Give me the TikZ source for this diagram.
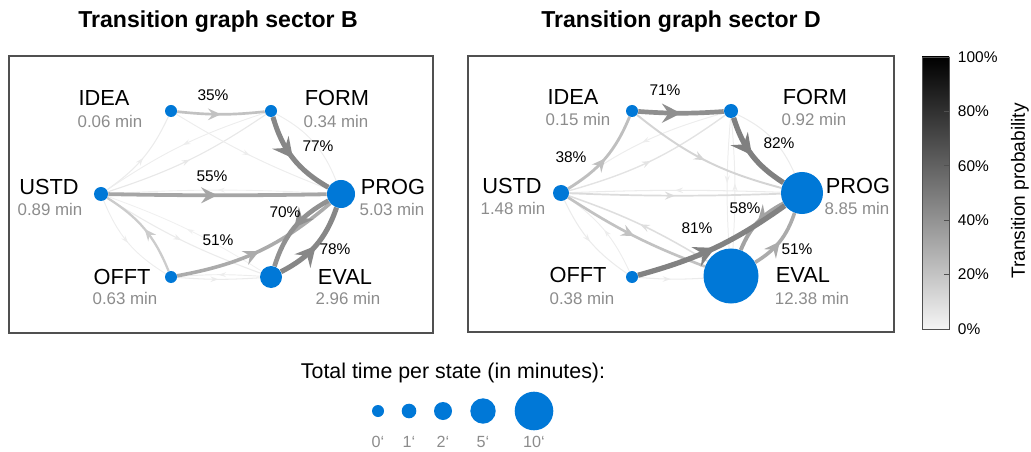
\documentclass[tikz,border=0pt]{standalone}
\usepackage{fontspec}
\setmainfont{Liberation Sans}
\usetikzlibrary{arrows.meta,decorations.markings,backgrounds}

\definecolor{dotblue}{RGB}{0,120,215}
\definecolor{timegray}{RGB}{140,140,140}
\definecolor{framegray}{RGB}{80,80,80}

\tikzset{
  dot/.style={circle, fill=dotblue, inner sep=0pt, minimum size=#1*0.5mm},
  state/.style={font=\fontsize{15.5}{18}\selectfont},
  tm/.style={text=timegray, font=\fontsize{12}{14}\selectfont},
  pct/.style={font=\fontsize{11}{13}\selectfont},
  % transition edge: grey level, width and arrow size grow with the probability
  tp/.code={%
    \pgfmathtruncatemacro\tpc{5+0.55*#1}%
    \pgfmathsetmacro\tpw{0.5+0.04*#1}%
    \pgfmathsetmacro\tpl{5+0.12*#1}%
    \pgfmathsetmacro\tpb{3+0.15*#1}%
    \pgfmathsetmacro\tpi{0.35*\tpl}%
    \tikzset{draw=black!\tpc, line width=\tpw pt,
      postaction={decorate, decoration={markings,
        mark=at position .5 with {\arrow{Stealth[length=\tpl pt, width=\tpb pt, inset=\tpi pt]}}}}}%
  },
}

\begin{document}
\begin{tikzpicture}[x=0.025cm, y=0.025cm]
\useasboundingbox (0,0) rectangle (1031,-452);

% titles and frames
\node[font=\bfseries\fontsize{16.4}{19}\selectfont] (ttlB) at (218,-22) {Transition graph sector B};
\node[font=\bfseries\fontsize{16.4}{19}\selectfont] (ttlD) at (681,-22) {Transition graph sector D};
\draw[framegray, line width=0.9pt] (9,-56) rectangle (433,-333);
\draw[framegray, line width=0.9pt] (468,-56) rectangle (894,-332);

%% sector B
\node[dot=6] (bI) at (171,-111) {};
\node[dot=6] (bF) at (271,-111) {};
\node[dot=7] (bU) at (101,-194) {};
\node[dot=14] (bP) at (341,-194) {};
\node[dot=6] (bO) at (171,-277) {};
\node[dot=11] (bE) at (271,-277) {};

\node[state] at (104,-98) {IDEA};  \node[tm] at (110,-121) {0.06 min};
\node[state] at (337,-98) {FORM};  \node[tm] at (336,-121) {0.34 min};
\node[state] at (49,-187) {USTD};  \node[tm] at (50,-209) {0.89 min};
\node[state] at (393,-187) {PROG}; \node[tm] at (392,-209) {5.03 min};
\node[state] at (122,-277) {OFFT}; \node[tm] at (125,-298) {0.63 min};
\node[state] at (345,-277) {EVAL}; \node[tm] at (348,-298) {2.96 min};

\begin{scope}[on background layer]
\draw[tp=6] (bU) to[bend right=15] (bI);
\draw[tp=8] (bU) to[bend right=8] (bF);
\draw[tp=4] (bF) to[bend right=8] (bU);
\draw[tp=5] (bI) to[bend right=5] (bP);
\draw[tp=5] (bP) to[bend right=20] (bF);
\draw[tp=7] (bU) to[bend right=6] (bE);
\draw[tp=3] (bE) to[bend right=6] (bU);
\draw[tp=4] (bU) to[bend right=18] (bO);
\draw[tp=6] (bO) to[bend right=4] (bE);
\draw[tp=4] (bE) to[bend right=4] (bO);
\draw[tp=3] (bP) to[bend right=3] (bU);
\draw[tp=28] (bO) to[bend right=18] (bU);
\draw[tp=35] (bI) to[bend right=6] (bF);
\draw[tp=55] (bU) to[bend right=1] (bP);
\draw[tp=51] (bO) to[bend right=15] (bP);
\draw[tp=77] (bF) to[bend right=22] (bP);
\draw[tp=70] (bP) to[bend right=22] (bE);
\draw[tp=78] (bE) to[bend right=22] (bP);
\end{scope}

\node[pct] at (213,-95) {35\%};
\node[pct] at (318,-146) {77\%};
\node[pct] at (212,-176) {55\%};
\node[pct] at (285,-212) {70\%};
\node[pct] at (218,-240) {51\%};
\node[pct] at (335,-249) {78\%};

%% sector D
\node[dot=6] (dI) at (632,-111) {};
\node[dot=7] (dF) at (731,-111) {};
\node[dot=8] (dU) at (561,-193) {};
\node[dot=21] (dP) at (802,-193) {};
\node[dot=6] (dO) at (632,-277) {};
\node[dot=27.5] (dE) at (731,-276) {};

\node[state] at (573,-97) {IDEA};  \node[tm] at (578,-119) {0.15 min};
\node[state] at (815,-97) {FORM};  \node[tm] at (814,-119) {0.92 min};
\node[state] at (512,-186) {USTD}; \node[tm] at (513,-208) {1.48 min};
\node[state] at (858,-186) {PROG}; \node[tm] at (857,-208) {8.85 min};
\node[state] at (578,-275) {OFFT}; \node[tm] at (582,-298) {0.38 min};
\node[state] at (803,-275) {EVAL}; \node[tm] at (812,-298) {12.38 min};

\begin{scope}[on background layer]
\draw[tp=12] (dU) to[bend right=10] (dF);
\draw[tp=5] (dF) to[bend right=10] (dU);
\draw[tp=6] (dP) to[bend right=20] (dF);
\draw[tp=5] (dF) to[bend right=4] (dE);
\draw[tp=5] (dE) to[bend right=4] (dF);
\draw[tp=6] (dO) to[bend right=4] (dE);
\draw[tp=6] (dU) to[bend right=15] (dO);
\draw[tp=4] (dO) to[bend right=15] (dU);
\draw[tp=6] (dP) to[bend right=2] (dU);
\draw[tp=18] (dU) to[bend right=2] (dP);
\draw[tp=22] (dI) to[bend right=12] (dP);
\draw[tp=15] (dE) to[bend right=6] (dU);
\draw[tp=35] (dU) to[bend right=6] (dE);
\draw[tp=38] (dU) to[bend right=18] (dI);
\draw[tp=71] (dI) to[bend right=4] (dF);
\draw[tp=82] (dF) to[bend right=20] (dP);
\draw[tp=58] (dP) to[bend right=20] (dE);
\draw[tp=51] (dE) to[bend right=20] (dP);
\draw[tp=81] (dO) to[bend right=10] (dP);
\end{scope}

\node[pct] at (665,-90) {71\%};
\node[pct] at (779,-143) {82\%};
\node[pct] at (571,-157) {38\%};
\node[pct] at (745,-208) {58\%};
\node[pct] at (697,-228) {81\%};
\node[pct] at (797,-249) {51\%};

%% colour bar
\shade[bottom color=black!4, top color=black] (922,-329) rectangle (949,-57);
\draw[framegray, line width=0.7pt] (922,-329) rectangle (949,-57);
\foreach \v in {20,40,60,80}
  \draw[framegray, line width=0.7pt] (949,{-329+2.72*\v}) -- ++(-5,0);
\foreach \v in {0,20,...,100}
  \node[pct, anchor=west] (cb\v) at (953,{-329+2.72*\v}) {\v\%};
\node[rotate=90, font=\fontsize{13.6}{16}\selectfont] (cbttl) at (1020,-191) {Transition probability};

%% size legend
\node[font=\fontsize{15.2}{18}\selectfont] (lgttl) at (453,-373) {Total time per state (in minutes):};
\foreach \x/\r/\t in {378/6/0, 409/7.3/1, 443/9/2, 483/12.7/5, 534/19.3/10} {
  \node[dot=\r] (lg\t) at (\x,-411) {};
  \node[text=timegray, font=\fontsize{11.5}{14}\selectfont] (lgl\t) at (\x,-442) {\t‘};
}
\end{tikzpicture}
\end{document}
